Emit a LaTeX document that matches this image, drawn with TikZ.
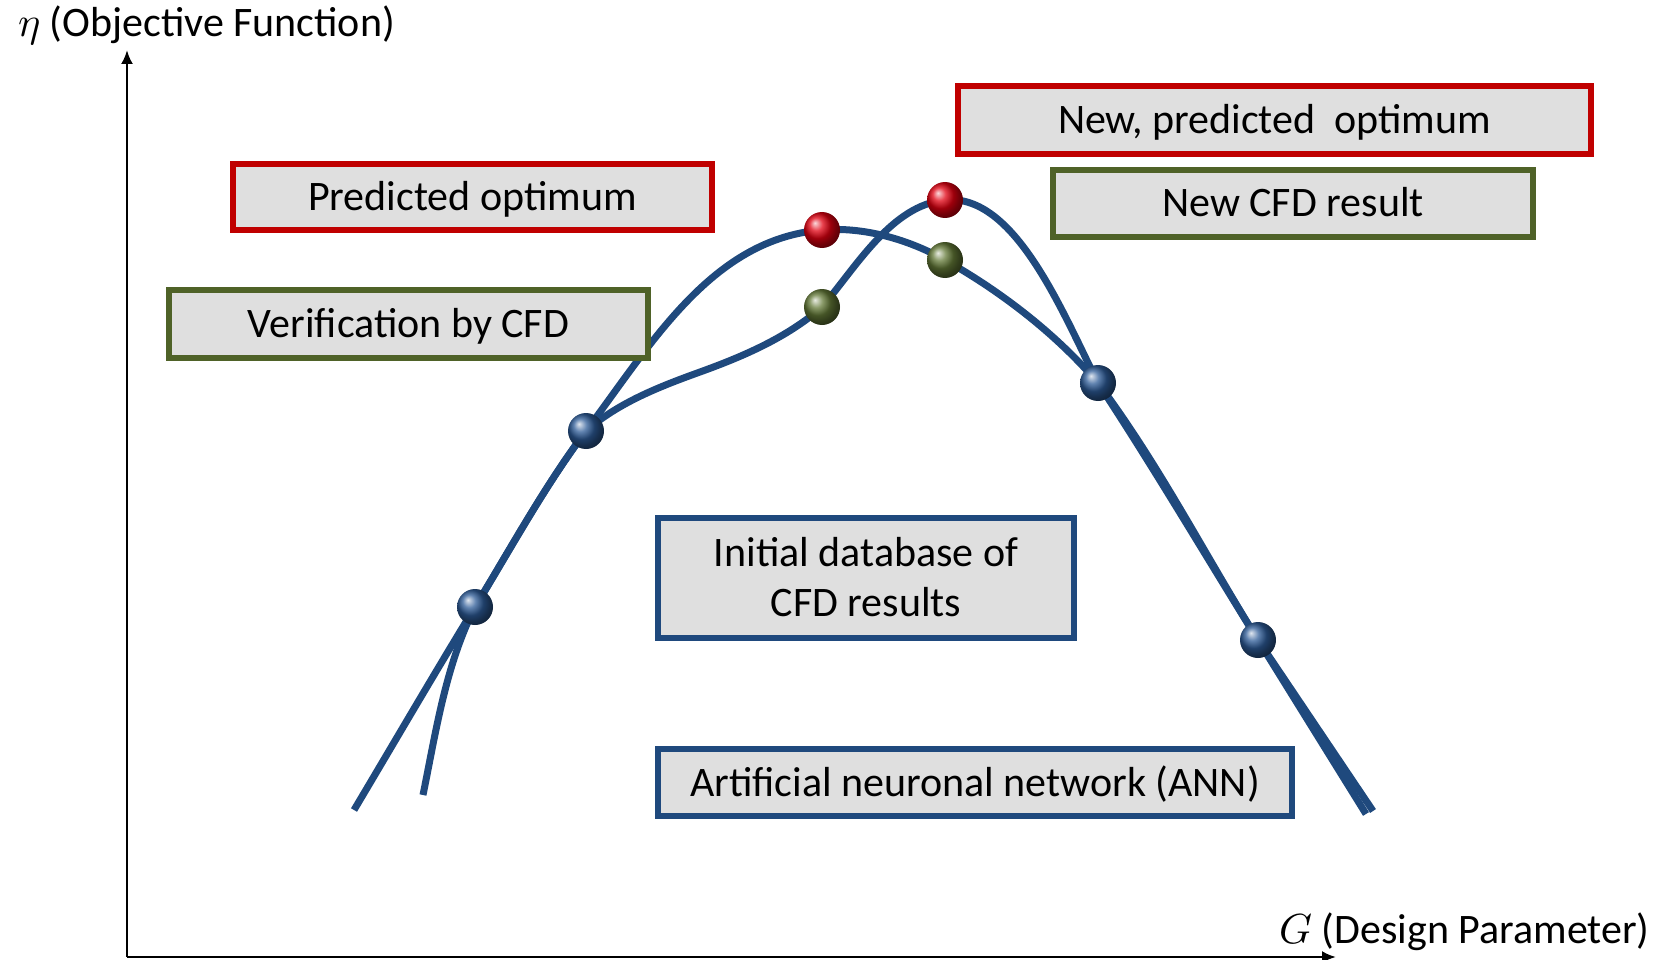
\documentclass[tikz,border=0pt]{standalone}
\usepackage{unicode-math}
\setmainfont{Carlito}
\usetikzlibrary{arrows.meta}
\definecolor{cfdblue}{HTML}{1F497D}
\definecolor{cfdred}{HTML}{C00000}
\definecolor{cfdgreen}{HTML}{4F6228}
\definecolor{boxgray}{HTML}{DFDFDF}
\definecolor{ballblue}{HTML}{2C5A96}
\definecolor{ballred}{HTML}{E00010}
\definecolor{ballgreen}{HTML}{627836}
\tikzset{
  lbl/.style={inner sep=0pt, font=\fontsize{42pt}{50pt}\selectfont},
  box/.style={draw, line width=6pt, fill=boxgray, inner sep=0pt, text height=27pt, text depth=0pt, align=center, font=\fontsize{42pt}{50pt}\selectfont},
  redbox/.style={box, draw=cfdred},
  greenbox/.style={box, draw=cfdgreen},
  bluebox/.style={box, draw=cfdblue},
  curve/.style={draw=cfdblue, line width=7pt},
  axis/.style={line width=2.5pt, -{Latex[length=14pt,width=12pt]}},
  sphere/.style={circle, minimum size=36pt, inner sep=0pt, shading=ball},
  bsph/.style={sphere, ball color=ballblue},
  rsph/.style={sphere, ball color=ballred},
  gsph/.style={sphere, ball color=ballgreen}
}
\begin{document}
\begin{tikzpicture}[x=1pt,y=-1pt]
\useasboundingbox (0,0) rectangle (1665,960);
% axes
\coordinate (O) at (127,957);
\coordinate (ytop) at (127,50);
\coordinate (xend) at (1336,957);
\draw[axis] (O) -- (ytop);
\draw[axis] (O) -- (xend);
\node[lbl, anchor=base west] (ylab) at (18,37) {$\eta$ (Objective Function)};
\node[lbl, anchor=base west] (xlab) at (1279,943) {$G$ (Design Parameter)};
% data points
\coordinate (p1) at (475,607);
\coordinate (p2) at (586,431);
\coordinate (r1) at (822,230);
\coordinate (g1) at (822,307);
\coordinate (r2) at (945,200);
\coordinate (g2) at (945,260);
\coordinate (p3) at (1098,383);
\coordinate (p4) at (1258,640);
\coordinate (aS) at (354,810);
\coordinate (aE) at (1366,814);
\coordinate (bS) at (423,795);
\coordinate (bE) at (1373,811);
\coordinate (m1) at (700,372);
% curve A (initial ANN)
\draw[curve] (aS) .. controls (394.5,742) and (433.7,674.6) .. (p1)
  .. controls (511,548) and (544.6,486.2) .. (p2)
  .. controls (652,343) and (712,238.8) .. (r1)
  .. controls (864,226.6) and (908.5,239.4) .. (g2)
  .. controls (1001.5,291.9) and (1055.7,333.6) .. (p3)
  .. controls (1158.6,463.8) and (1204.5,554.1) .. (p4)
  -- (aE);
% curve B (new ANN)
\draw[curve] (bS) .. controls (436,731.3) and (445.7,664.9) .. (p1)
  .. controls (511,548) and (544.6,486.2) .. (p2)
  .. controls (618.3,402.6) and (659.6,386.6) .. (m1)
  .. controls (743.2,356.4) and (787.5,337.4) .. (g1)
  .. controls (857,266) and (891.5,205.4) .. (r2)
  .. controls (1015,193) and (1062.5,312.7) .. (p3)
  .. controls (1153.5,467.3) and (1204.5,554.1) .. (p4)
  -- (bE);
% spheres
\node[bsph] (s1) at (p1) {};
\node[bsph] (s2) at (p2) {};
\node[bsph] (s3) at (p3) {};
\node[bsph] (s4) at (p4) {};
\node[rsph] (sr1) at (r1) {};
\node[rsph] (sr2) at (r2) {};
\node[gsph] (sg1) at (g1) {};
\node[gsph] (sg2) at (g2) {};
% boxes
\node[redbox, minimum width=633pt, minimum height=68pt] (newpred) at (1274.5,120) {New, predicted\ \ optimum};
\node[greenbox, minimum width=480pt, minimum height=67pt] (newcfd) at (1293,203.5) {New CFD result};
\node[redbox, minimum width=479pt, minimum height=66pt] (pred) at (472.5,197) {Predicted optimum};
\node[greenbox, minimum width=479pt, minimum height=68pt] (verif) at (408.5,324) {Verification by CFD};
\node[bluebox, minimum width=416pt, minimum height=120pt, text height=77pt, text depth=0pt] (init) at (866,578) {Initial database of\\CFD results};
\node[bluebox, minimum width=634pt, minimum height=67pt] (ann) at (975,782.5) {Artificial neuronal network (ANN)};
\end{tikzpicture}
\end{document}
